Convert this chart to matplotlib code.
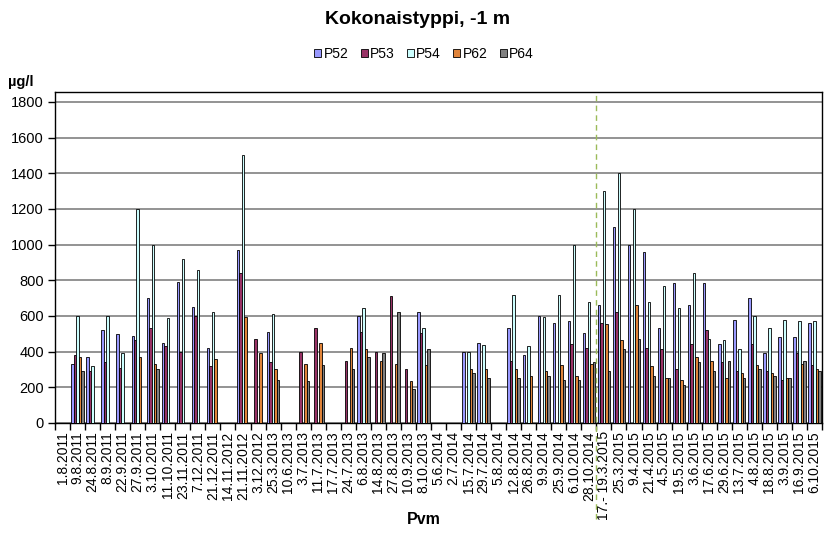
import matplotlib.pyplot as plt
import numpy as np

nan = np.nan

dates = ["1.8.2011", "9.8.2011", "24.8.2011", "8.9.2011", "22.9.2011", "27.9.2011",
         "3.10.2011", "11.10.2011", "23.11.2011", "7.12.2011", "21.12.2011",
         "14.11.2012", "21.11.2012", "3.12.2012", "25.3.2013", "10.6.2013",
         "3.7.2013", "11.7.2013", "17.7.2013", "24.7.2013", "6.8.2013", "14.8.2013",
         "27.8.2013", "10.9.2013", "8.10.2013", "5.6.2014", "2.7.2014", "15.7.2014",
         "29.7.2014", "5.8.2014", "12.8.2014", "26.8.2014", "9.9.2014", "25.9.2014",
         "6.10.2014", "28.10.2014", "17.- 19.3.2015", "25.3.2015", "9.4.2015",
         "21.4.2015", "4.5.2015", "19.5.2015", "3.6.2015", "17.6.2015", "29.6.2015",
         "13.7.2015", "4.8.2015", "18.8.2015", "3.9.2015", "16.9.2015", "6.10.2015"]

p52 = [nan, 330, 370, 520, 500, 490, 700, 450, 790, 650, 420,
       nan, 970, nan, 510, nan, nan, nan, nan, nan, 600, nan, nan, nan, 625,
       nan, nan, 400, 450, nan, 530, 380, 600, 560, 570, 505,
       660, 1100, 1000, 960, 535, 785, 660, 785, 445, 575, 700, 390, 480, 480, 560]
p53 = [nan, 380, 290, 340, 310, 465, 530, 430, 400, 600, 320,
       nan, 840, 470, 340, nan, 400, 535, nan, 345, 510, 400, 710, 300, 505,
       nan, nan, nan, nan, nan, 345, nan, nan, nan, 445, 420,
       560, 625, nan, 420, 415, 305, 445, 520, 340, 290, 445, 290, 240, 390, 325]
p54 = [nan, 600, 320, 600, 390, 1200, 1000, 590, 920, 860, 620,
       nan, 1500, nan, 610, nan, nan, nan, nan, nan, 645, nan, nan, nan, 530,
       nan, nan, 400, 435, nan, 715, 430, 595, 715, 1000, 680,
       1300, 1400, 1200, 680, 770, 645, 840, 470, 465, 415, 600, 535, 575, 570, 570]
p62 = [nan, 370, nan, nan, nan, 370, 330, nan, nan, nan, 360,
       nan, 595, 390, 305, nan, 330, 450, nan, 420, 415, 345, 330, 235, 325,
       nan, nan, 300, 300, nan, 300, 265, 290, 325, 265, 330,
       555, 465, 660, 320, 255, 240, 370, 345, 255, 280, 325, 280, 250, 330, 305]
p64 = [nan, 290, nan, nan, nan, nan, 305, nan, nan, nan, nan,
       nan, nan, nan, 240, nan, 235, 325, nan, 305, 370, 390, 620, 190, 415,
       nan, nan, 280, 255, nan, 255, nan, 265, 240, 240, 340,
       290, 415, 470, 265, 250, 215, 340, 290, 345, 250, 305, 265, 250, 345, 290]

names = ["P52", "P53", "P54", "P62", "P64"]
colors = ["#9999FF", "#993366", "#CCFFFF", "#E0843A", "#808080"]

plt.rcParams['font.family'] = ['Liberation Sans', 'DejaVu Sans']

fig = plt.figure(figsize=(8.38, 5.42), dpi=100)
ax = fig.add_axes([55/838, 1-423/542, 767/838, 331/542])

x = np.arange(len(dates))
w = 0.165
for i, vals in enumerate([p52, p53, p54, p62, p64]):
    v = np.array(vals, dtype=float)
    m = np.isfinite(v)
    ax.bar(x[m] + (i-2)*w, v[m], w, color=colors[i], edgecolor='black',
           linewidth=0.6, label=names[i], zorder=3)

ax.set_xlim(-0.5, len(dates)-0.5)
ax.set_ylim(0, 1856)
ax.set_yticks(range(0, 1801, 200))
ax.yaxis.grid(True, color='#808080', linewidth=1.2)
ax.set_axisbelow(True)

ax.set_xticks(x)
ax.set_xticklabels(dates, rotation=90, fontsize=10)
ax.set_xticks(np.arange(-0.5, len(dates)), minor=True)
ax.tick_params(axis='x', which='major', length=0, pad=6)
ax.tick_params(axis='x', which='minor', length=5, direction='out', width=1)
ax.tick_params(axis='y', length=5, width=1, labelsize=10.5, pad=3)
for s in ax.spines.values():
    s.set_linewidth(1)

# dashed marker between 2014 and 2015
ax.plot([35.5, 35.5], [-0.29, 1], transform=ax.get_xaxis_transform(),
        color='#9BBB59', linestyle=(0, (4, 3)), linewidth=1, clip_on=False, zorder=5)

fig.text(418/838, 1-20/542, "Kokonaistyppi, -1 m", ha='center', va='center',
         fontsize=14, fontweight='bold')
fig.text(21/838, 1-82/542, "µg/l", ha='center', va='center',
         fontsize=10.5, fontweight='bold')
fig.text(424/838, 1-519/542, "Pvm", ha='center', va='center',
         fontsize=11.5, fontweight='bold')

fig.legend(loc='center', bbox_to_anchor=(424/838, 1-54/542), ncol=5, frameon=False,
           fontsize=10, handlelength=0.5, handleheight=0.5, handletextpad=0.15,
           columnspacing=0.9, borderpad=0)

plt.savefig("out.png", dpi=100)
plt.close()
